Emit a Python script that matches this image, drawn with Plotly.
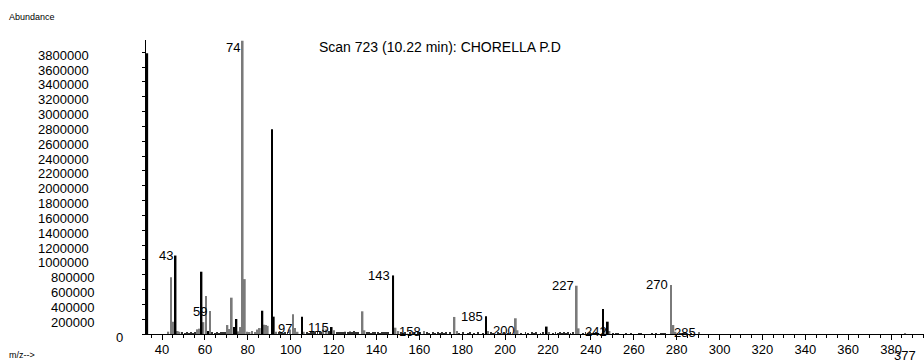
import plotly.graph_objects as go

# ---- data (m/z positions as read on the drawn axis, abundances) ----
mz_dark = [33.1, 46.3, 58.4, 61.5, 73.6, 74.7, 86.8, 91.2, 92.1, 105.2, 119.1,
           147.8, 191.1, 219.4, 245.6, 247.9]
ab_dark = [3786000, 1058000, 840000, 40000, 94000, 202000, 314000, 2760000, 234000,
           234000, 94000, 790000, 240000, 100000, 337000, 166000]

mz_gray = [42.9, 44.2, 45.1, 47.3, 48.1, 56.5, 57.4, 59.3, 60.5, 62.4, 70.5, 71.4, 72.5,
           75.6, 76.6, 77.6, 78.6, 79.6, 80.8, 82.0, 83.4, 84.5, 85.6, 87.7, 88.5, 89.3,
           93.2, 99.7, 101.0, 102.0, 103.2, 106.1, 115.2, 116.8, 120.2, 133.5, 134.4,
           148.9, 150.2, 162.2, 176.4, 177.5, 192.0, 205.0, 205.8, 220.5, 233.4, 234.3,
           246.5, 248.7, 277.4, 278.5, 279.5, 290.5, 386.6]
ab_gray = [31000, 765000, 166000, 40000, 30000, 63000, 72000, 160000, 512000, 310000,
           121000, 67000, 490000, 35000, 94000, 3955000, 740000, 30000, 20000, 40000,
           25000, 60000, 80000, 125000, 120000, 110000, 30000, 60000, 265000, 80000,
           30000, 30000, 80000, 60000, 50000, 306000, 50000, 85000, 40000, 40000,
           230000, 40000, 40000, 212000, 50000, 25000, 651000, 76000, 70000, 40000,
           661000, 121000, 30000, 15000, 12000]

minor_mz = [49.5, 50.5, 51.5, 52.5, 53.5, 54.5, 55.5, 63.5, 64.5, 65.5, 66.5, 67.5,
            68.5, 69.5, 94.5, 95.5, 96.5, 97.5, 98.5, 107.5, 108.5, 109.5, 110.5, 111.5,
            112.5, 113.5, 114.3, 117.8, 121.5, 122.5, 123.5, 124.5, 125.5, 126.5, 127.5,
            128.5, 129.5, 130.5, 131.5, 135.5, 136.5, 137.5, 138.5, 139.5, 140.5, 141.5,
            142.5, 143.5, 144.5, 145.5, 151.5, 152.5, 153.5, 155.5, 157.5, 159.5, 160.5,
            163.5, 164.5, 166.5, 167.5, 168.5, 169.5, 170.5, 171.5, 172.5, 174.5, 178.5,
            180.5, 182.5, 183.5, 185.5, 187.5, 189.5, 193.5, 194.5, 196.5, 197.5, 199.5,
            201.5, 202.5, 207.5, 209.5, 210.5, 212.5, 213.5, 214.5, 216.5, 217.5, 222.5,
            223.5, 224.5, 225.5, 226.5, 227.5, 228.5, 229.5, 230.5, 231.5, 236.5, 237.5,
            238.5, 239.5, 240.5, 242.5, 243.5, 250.5, 251.5, 252.5, 256.5, 258.5, 262.5,
            263.5, 268.5, 270.5, 272.5, 273.5, 274.5, 281.5, 282.5, 283.5, 284.5, 286.5,
            288.5]
minor_ab = [15000, 12000, 15000, 12000, 15000, 12000, 20000, 15000, 12000, 15000, 12000,
            15000, 20000, 15000, 15000, 20000, 12000, 15000, 20000, 15000, 12000, 20000,
            15000, 25000, 15000, 20000, 30000, 40000, 15000, 20000, 25000, 15000, 30000,
            20000, 35000, 15000, 40000, 25000, 15000, 20000, 15000, 12000, 15000, 20000,
            15000, 12000, 20000, 15000, 25000, 15000, 15000, 12000, 15000, 20000, 15000,
            15000, 20000, 15000, 12000, 15000, 12000, 15000, 12000, 15000, 12000, 15000,
            20000, 12000, 15000, 12000, 15000, 12000, 15000, 12000, 15000, 12000, 15000,
            12000, 15000, 12000, 15000, 12000, 15000, 12000, 15000, 12000, 15000, 12000,
            15000, 12000, 15000, 12000, 15000, 12000, 15000, 12000, 15000, 12000, 15000,
            12000, 15000, 12000, 15000, 12000, 15000, 12000, 12000, 12000, 12000, 12000,
            12000, 12000, 12000, 12000, 12000, 12000, 12000, 12000, 12000, 12000, 12000,
            12000, 12000]

peak_labels = ["74", "43", "59", "97", "115", "143", "158", "185", "200", "227", "242",
               "270", "285"]
peak_label_mz = [77.6, 46.3, 62.4, 102.0, 119.1, 147.8, 162.2, 191.1, 205.8, 233.4,
                 248.7, 277.4, 290.5]
low_label = "377"
low_label_mz = 386.6

x_ticks = list(range(40, 381, 20))
y_tick_vals = [200000 * i for i in range(1, 20)]
y_tick_text = [str(v) for v in y_tick_vals]

title_text = "Scan 723 (10.22 min): CHORELLA P.D"

# ---- figure ----
FONT = "Liberation Sans, Arial, sans-serif"
W, H = 924, 362
L, R, T, B = 146, 0, 40, 28
pw, ph = W - L - R, H - T - B
XMIN = 32.5
XMAX = XMIN + pw / 2.144
YMAX = ph / 14.83 * 200000

all_pts = dict(zip(mz_dark + mz_gray, ab_dark + ab_gray))

fig = go.Figure()
fig.add_bar(x=minor_mz, y=minor_ab, width=0.45, marker=dict(color="#333333", line_width=0),
            hoverinfo="skip")
fig.add_bar(x=mz_gray, y=ab_gray, width=0.8, marker=dict(color="#7a7a7a", line_width=0))
fig.add_bar(x=mz_dark, y=ab_dark, width=0.8, marker=dict(color="#000000", line_width=0))

ann = []
for txt, m in zip(peak_labels, peak_label_mz):
    ann.append(dict(x=m, y=all_pts[m], xref="x", yref="y", text=txt, showarrow=False,
                    xanchor="right", yanchor="middle", xshift=-2, borderpad=0,
                    yshift=-7 if txt == "74" else 0,
                    font=dict(family=FONT, size=13, color="black")))
ann.append(dict(x=low_label_mz, y=0, xref="x", yref="y", text=low_label, showarrow=False,
                xanchor="center", yanchor="middle", yshift=-21, borderpad=0,
                font=dict(family=FONT, size=13, color="black")))

for v, t in zip(y_tick_vals, y_tick_text):
    left_px = 37 if len(t) >= 7 else 50
    ann.append(dict(x=(left_px - L) / pw, y=v, xref="paper", yref="y", text=t,
                    showarrow=False, xanchor="left", yanchor="middle", yshift=-3,
                    borderpad=0, font=dict(family=FONT, size=13, color="black")))
ann.append(dict(x=(115 - L) / pw, y=0, xref="paper", yref="y", text="0", showarrow=False,
                xanchor="left", yanchor="middle", yshift=-3, borderpad=0,
                font=dict(family=FONT, size=13, color="black")))

ann.append(dict(x=(8 - L) / pw, y=(H - B - 17) / ph, xref="paper", yref="paper",
                text="Abundance", showarrow=False, xanchor="left", yanchor="middle",
                borderpad=0, font=dict(family=FONT, size=9, color="black")))
ann.append(dict(x=(8 - L) / pw, y=(H - B - 355) / ph, xref="paper", yref="paper",
                text="m/z-->", showarrow=False, xanchor="left", yanchor="middle",
                borderpad=0, font=dict(family=FONT, size=9, color="black")))
ann.append(dict(x=(318 - L) / pw, y=(H - B - 47) / ph, xref="paper", yref="paper",
                text=title_text, showarrow=False, xanchor="left", yanchor="middle",
                borderpad=0, font=dict(family=FONT, size=14, color="black")))

fig.update_layout(
    width=W, height=H, margin=dict(l=L, r=R, t=T, b=B),
    paper_bgcolor="white", plot_bgcolor="white", showlegend=False,
    barmode="overlay", annotations=ann,
    xaxis=dict(range=[XMIN, XMAX], tickvals=x_ticks, ticks="outside", ticklen=5,
               tickcolor="black", tickwidth=1, showline=True, linecolor="black",
               linewidth=1, showgrid=False, zeroline=False, ticklabelstandoff=-2,
               tickfont=dict(family=FONT, size=13, color="black"),
               minor=dict(dtick=5, tick0=0, ticks="outside", ticklen=3,
                          tickcolor="black", showgrid=False)),
    yaxis=dict(range=[0, YMAX], tickvals=[0] + y_tick_vals, ticks="outside", ticklen=3,
               tickcolor="black", showline=True, linecolor="black", linewidth=1,
               showgrid=False, zeroline=False, showticklabels=False),
)

fig.write_html(
    "out.html",
    config={"displayModeBar": False},
    post_script="document.body.style.margin='0';document.body.style.overflow='hidden';",
)
